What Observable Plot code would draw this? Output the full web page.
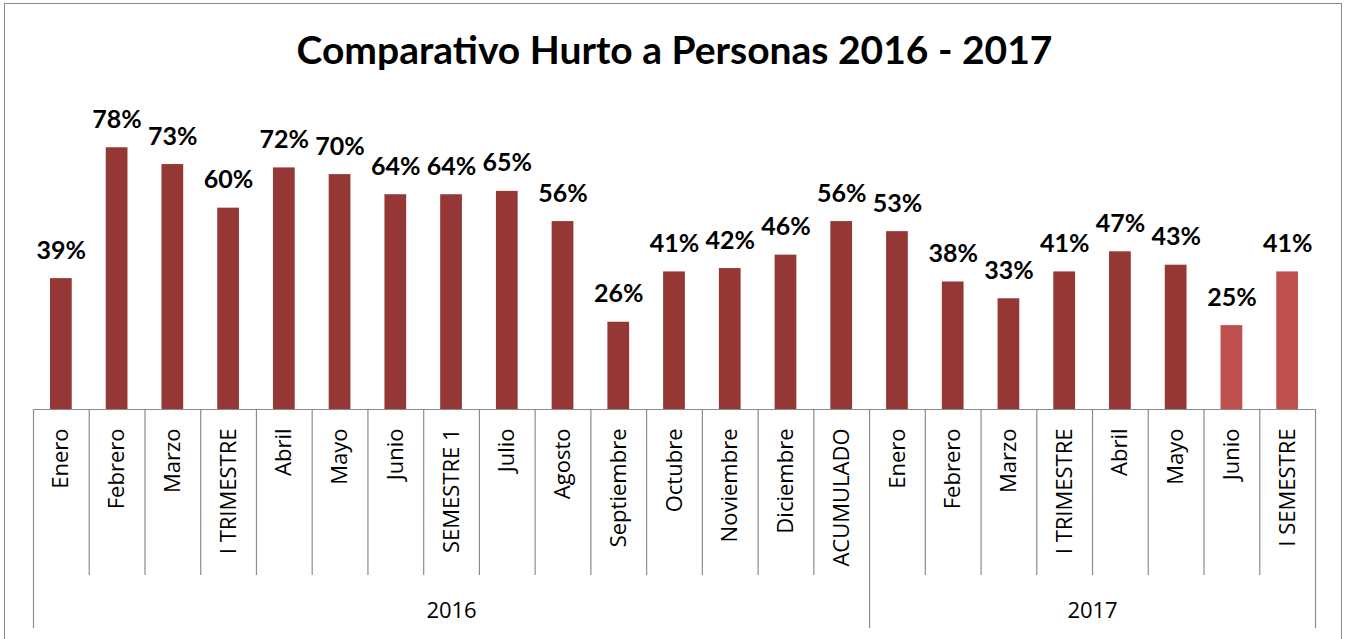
<!DOCTYPE html>
<html><head><meta charset="utf-8">
<script src="https://cdn.jsdelivr.net/npm/d3@7"></script>
<script src="https://cdn.jsdelivr.net/npm/@observablehq/plot@0.6"></script>
<style>
body{margin:0;background:#fff;}
#wrap{position:relative;width:1345px;height:639px;overflow:hidden;background:#fff}
#border{position:absolute;left:4px;top:3px;width:1338px;height:700px;border:1px solid #8c8c8c;box-sizing:border-box;pointer-events:none}
</style></head><body><div id="wrap"><div id="chart"></div><div id="border"></div></div>
<script>
const title = "Comparativo Hurto a Personas 2016 - 2017";
const years = ["2016", "2017"];
const months2016 = ["Enero","Febrero","Marzo","I TRIMESTRE","Abril","Mayo","Junio","SEMESTRE 1","Julio","Agosto","Septiembre","Octubre","Noviembre","Diciembre","ACUMULADO"];
const values2016 = [0.39,0.78,0.73,0.60,0.72,0.70,0.64,0.64,0.65,0.56,0.26,0.41,0.42,0.46,0.56];
const months2017 = ["Enero","Febrero","Marzo","I TRIMESTRE","Abril","Mayo","Junio","I SEMESTRE"];
const values2017 = [0.53,0.38,0.33,0.41,0.47,0.43,0.25,0.41];
const highlighted2017 = ["Junio","I SEMESTRE"];

const dark = "#953735", light = "#C0504D", grey = "#8c8c8c";
const W = 1345, H = 639, mL = 33, mR = 30, mT = 107, mB = 230;

const rows = [
  ...months2016.map((m, i) => ({key: `2016|${i}`, year: years[0], label: m, value: values2016[i], hl: false})),
  ...months2017.map((m, i) => ({key: `2017|${i}`, year: years[1], label: m, value: values2017[i], hl: highlighted2017.includes(m)}))
];
const step = (W - mL - mR) / rows.length;
const frameH = H - mT - mB;
const first = years.map(y => rows.find(r => r.year === y));
const count = years.map(y => rows.filter(r => r.year === y).length);

const boldFont = "Lato, sans-serif";
const axisFont = "'Open Sans', sans-serif";
const plot = Plot.plot({
  width: W, height: H,
  marginLeft: mL, marginRight: mR, marginTop: mT, marginBottom: mB,
  style: {fontFamily: axisFont, background: "transparent", color: "#000"},
  x: {type: "band", domain: rows.map(r => r.key), padding: 0, round: false, axis: null},
  y: {domain: [0, 0.9], axis: null},
  marks: [
    Plot.barY(rows.filter(r => !r.hl), {x: "key", y: "value", fill: dark, insetLeft: 17, insetRight: 17}),
    Plot.barY(rows.filter(r => r.hl), {x: "key", y: "value", fill: light, insetLeft: 17, insetRight: 17}),
    Plot.ruleY([0], {stroke: grey, strokeWidth: 1.2}),
    // category separators
    Plot.ruleX(rows.filter(r => !first.includes(r)), {x: "key", dx: -step / 2, insetTop: frameH, insetBottom: -166, stroke: grey, strokeWidth: 1.2}),
    // group separators
    Plot.ruleX(first, {x: "key", dx: -step / 2, insetTop: frameH, insetBottom: -219, stroke: grey, strokeWidth: 1.2}),
    Plot.ruleX([rows[rows.length - 1]], {x: "key", dx: step / 2, insetTop: frameH, insetBottom: -219, stroke: grey, strokeWidth: 1.2}),
    // value labels
    Plot.text(rows, {x: "key", y: "value", text: d => Math.round(d.value * 100) + "%", dy: -20, lineAnchor: "bottom", fontSize: 25, fontWeight: "bold", fontFamily: boldFont, fill: "#000"}),
    // category labels
    Plot.text(rows, {x: "key", y: 0, text: "label", rotate: -90, textAnchor: "end", lineAnchor: "middle", dy: 19, fontSize: 22, fill: "#000"}),
    // year labels
    ...years.map((y, i) => Plot.text([y], {x: () => first[i].key, text: d => d, frameAnchor: "bottom", dx: (count[i] - 1) * step / 2, dy: 201, lineAnchor: "middle", fontSize: 22, fill: "#000"})),
    // title
    Plot.text([title], {text: d => d, frameAnchor: "top", dy: -56, lineAnchor: "middle", fontSize: 39, fontWeight: "bold", fontFamily: boldFont, fill: "#000"})
  ]
});
document.getElementById("chart").appendChild(plot);
</script></body></html>
